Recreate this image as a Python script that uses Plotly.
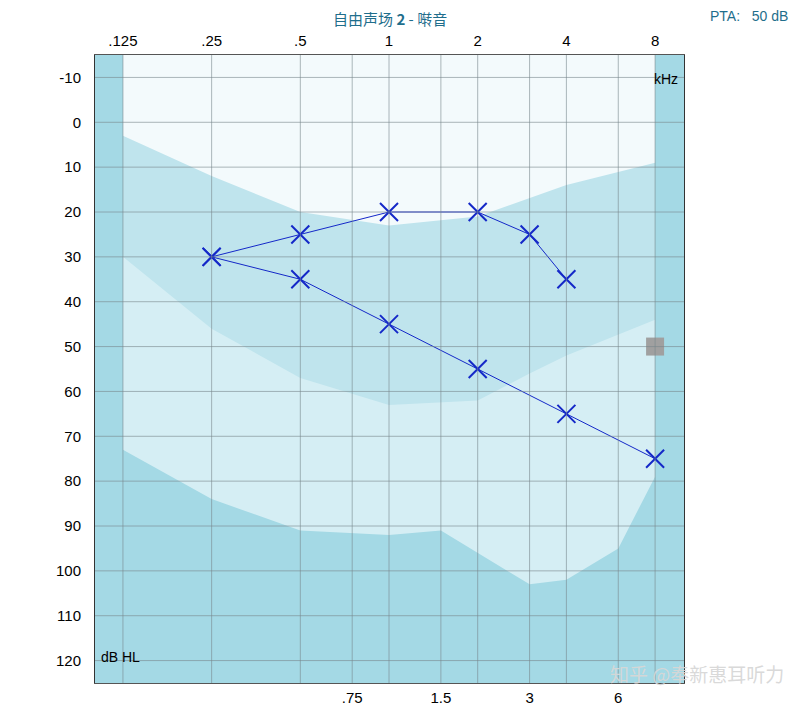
import numpy as np
import plotly.graph_objects as go

top_freqs = [0.125, 0.25, 0.5, 1, 2, 4, 8]
top_labels = [".125", ".25", ".5", "1", "2", "4", "8"]
bot_freqs = [0.75, 1.5, 3, 6]
bot_labels = [".75", "1.5", "3", "6"]
y_ticks = list(range(-10, 130, 10))
y_labels = [str(v) for v in y_ticks]

curveA_f = [0.125, 0.25, 0.5, 1, 2, 4, 8]
curveA_db = [3, 12, 20, 23, 21, 14, 9]
curveB_f = [0.125, 0.25, 0.5, 1, 2, 3, 4, 8]
curveB_db = [30, 46, 57, 63, 62, 56, 52, 44]
curveC_f = [0.125, 0.25, 0.5, 1, 1.5, 3, 4, 6, 8]
curveC_db = [73, 84, 91, 92, 91, 103, 102, 95, 79]

s1_f = [0.25, 0.5, 1, 2, 3, 4]
s1_db = [30, 25, 20, 20, 25, 35]
s2_f = [0.25, 0.5, 1, 2, 4, 8]
s2_db = [30, 35, 45, 55, 65, 75]
pta_f = [8]
pta_db = [50]

L = np.log2
xr = [-3.315, 3.326]
fig = go.Figure()

def region(f, db, color):
    xs = [xr[0]] + list(L(f)) + [xr[1], xr[1], xr[0]]
    ys = [db[0]] + list(db) + [db[-1], 125, 125]
    fig.add_trace(go.Scatter(x=xs, y=ys, fill="toself", fillcolor=color, mode="lines",
                             line=dict(width=0), hoverinfo="skip", showlegend=False))

region(curveA_f, curveA_db, "#bfe4ed")
region(curveB_f, curveB_db, "#d5eef4")
region(curveC_f, curveC_db, "#a4d9e5")
for x0, x1 in [(xr[0], L(0.125)), (L(8), xr[1])]:
    fig.add_trace(go.Scatter(x=[x0, x1, x1, x0, x0], y=[-15, -15, 125, 125, -15], fill="toself",
                             fillcolor="#a4d9e5", mode="lines", line=dict(width=0),
                             hoverinfo="skip", showlegend=False))

blue = "#1428c8"
for f, d in [(s1_f, s1_db), (s2_f, s2_db)]:
    fig.add_trace(go.Scatter(x=L(f), y=d, mode="lines+markers", showlegend=False,
                             line=dict(color=blue, width=1),
                             marker=dict(symbol="x-thin", size=18, line=dict(color=blue, width=2))))
fig.add_trace(go.Scatter(x=L(pta_f), y=pta_db, mode="markers", showlegend=False,
                         marker=dict(symbol="square", size=18, color="#a0a0a0")))

allgrid = sorted(list(L(top_freqs)) + list(L(bot_freqs)))
fig.update_layout(
    width=788, height=702, margin=dict(l=87, r=112, t=47, b=27, autoexpand=False),
    paper_bgcolor="white",
    plot_bgcolor="#f3fafc",
    font=dict(family="Liberation Sans, Arial", size=15, color="black"),
    xaxis=dict(range=xr, tickvals=list(L(top_freqs)), ticktext=top_labels, side="top",
               showgrid=False, zeroline=False, ticks="", showline=True, linecolor="#555",
               mirror=True, automargin=False, ticklabelstandoff=2),
    xaxis2=dict(range=xr, tickvals=list(L(bot_freqs)), ticktext=bot_labels, side="bottom",
                overlaying="x", showgrid=False, zeroline=False, ticks="", automargin=False,
                ticklabelstandoff=4),
    yaxis=dict(range=[125, -15], tickvals=y_ticks, ticktext=y_labels, showgrid=False,
               zeroline=False, ticks="", showline=True, linecolor="#333", mirror=True,
               ticklabelstandoff=10, automargin=False),
)
fig.add_trace(go.Scatter(x=[0], y=[None], xaxis="x2", showlegend=False, hoverinfo="skip"))
for gx in allgrid:
    fig.add_shape(type="line", xref="x", yref="paper", x0=gx, x1=gx, y0=0, y1=1,
                  line=dict(color="rgba(120,135,140,0.6)", width=1), layer="above")
for gy in y_ticks:
    fig.add_shape(type="line", xref="paper", yref="y", x0=0, x1=1, y0=gy, y1=gy,
                  line=dict(color="rgba(120,135,140,0.6)", width=1), layer="above")

fig.add_annotation(text="自由声场 <b>2</b> - 啭音", xref="paper", yref="paper", x=0.5, y=1,
                   yshift=37, yanchor="middle", showarrow=False,
                   font=dict(size=15, color="#1f6e8c", family="Noto Sans CJK SC"))
fig.add_annotation(text="PTA:   50 dB", xref="paper", yref="paper", x=1, y=1, xshift=106,
                   yshift=39, xanchor="right", yanchor="middle", showarrow=False,
                   font=dict(size=14, color="#1f6e8c"))
fig.add_annotation(text="kHz", xref="paper", yref="paper", x=1, y=1, xshift=-4, yshift=-14,
                   xanchor="right", showarrow=False, font=dict(size=14))
fig.add_annotation(text="dB HL", xref="paper", yref="paper", x=0, y=0, xshift=4, yshift=16,
                   xanchor="left", showarrow=False, font=dict(size=14))
fig.add_annotation(text="知乎 @奉新惠耳听力", xref="paper", yref="paper", x=1, y=0, xshift=102,
                   yshift=-6, xanchor="right", showarrow=False,
                   font=dict(size=19, color="rgba(215,215,215,0.95)", family="Noto Sans CJK SC"))
fig.write_html("out.html")
